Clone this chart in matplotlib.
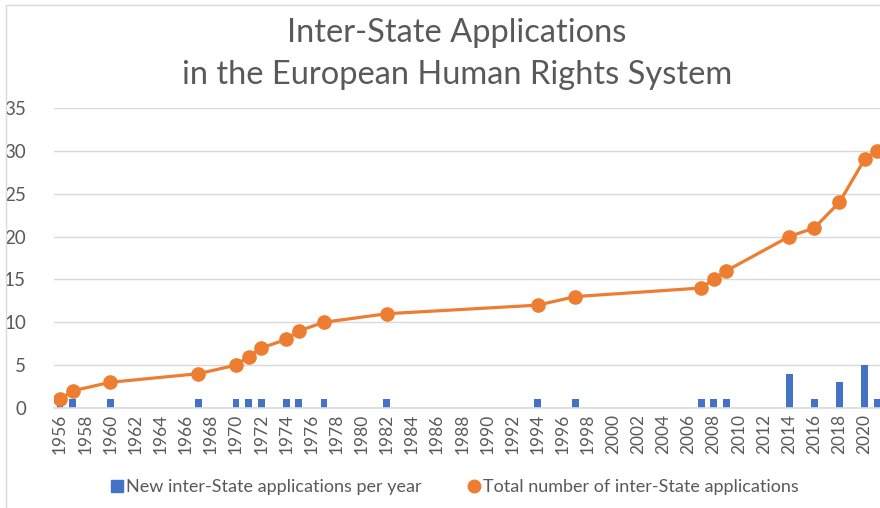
import numpy as np
import matplotlib
matplotlib.use("Agg")
import matplotlib.pyplot as plt
from matplotlib.patches import Rectangle
from matplotlib.lines import Line2D

# data
years = list(range(1956, 2022))
new_years = [1956, 1957, 1960, 1967, 1970, 1971, 1972, 1974, 1975, 1977, 1982,
             1994, 1997, 2007, 2008, 2009, 2014, 2016, 2018, 2020, 2021]
new_counts = [1, 1, 1, 1, 1, 1, 1, 1, 1, 1, 1,
              1, 1, 1, 1, 1, 4, 1, 3, 5, 1]
total_counts = [1, 2, 3, 4, 5, 6, 7, 8, 9, 10, 11,
                12, 13, 14, 15, 16, 20, 21, 24, 29, 30]
tick_labels = [str(y) for y in years[::2]]
series_names = ["New inter-State applications per year",
                "Total number of inter-State applications"]

blue = "#4472C4"
orange = "#ED7D31"
grey_txt = "#595959"
grid_c = "#D9D9D9"

plt.rcParams["font.family"] = ["Lato", "DejaVu Sans"]

fig = plt.figure(figsize=(8.8, 5.08), dpi=100)
fig.patch.set_facecolor("white")
# chart border (cropped on the right and bottom)
fig.patches.append(Rectangle((6 / 880, -0.1), 1.2, 1 - 5 / 508 + 0.1,
                             transform=fig.transFigure, fill=False,
                             edgecolor=grid_c, linewidth=1))

x0 = 53.7 / 880
ax = fig.add_axes([x0, 1 - 408 / 508, 883.4 / 880 - x0, 300 / 508])

idx = {y: i for i, y in enumerate(years)}
bx = [idx[y] for y in new_years]

ax.bar(bx, new_counts, width=0.55, color=blue, zorder=2)
ax.plot(bx, total_counts, color=orange, linewidth=2.3, marker="o",
        markersize=9.5, zorder=3)

ax.set_xlim(-0.5, len(years) - 0.5)
ax.set_ylim(0, 35)
ax.set_yticks(range(0, 36, 5))
ax.set_xticks(range(0, len(years), 2))
ax.set_xticklabels(tick_labels, rotation=90)
ax.tick_params(axis="y", length=0, labelsize=13.5, colors=grey_txt, pad=20)
ax.tick_params(axis="x", length=0, labelsize=12.5, colors=grey_txt, pad=4)
ax.grid(axis="y", color=grid_c, linewidth=1, zorder=0)
ax.set_axisbelow(True)
for s in ["top", "right", "left"]:
    ax.spines[s].set_visible(False)
ax.spines["bottom"].set_color(grid_c)
ax.spines["bottom"].set_linewidth(1.2)

fig.text(457 / 880, 1 - 33 / 508, "Inter-State Applications", ha="center",
         va="center", fontsize=23.5, color=grey_txt)
fig.text(457 / 880, 1 - 75 / 508, "in the European Human Rights System",
         ha="center", va="center", fontsize=23.5, color=grey_txt)

handles = [Line2D([], [], linestyle="none", marker="s", markersize=8, color=blue),
           Line2D([], [], linestyle="none", marker="o", markersize=9, color=orange)]
fig.legend(handles, series_names, loc="center", bbox_to_anchor=(455 / 880, 1 - 487 / 508),
           ncol=2, frameon=False, fontsize=13, handlelength=0.6, handletextpad=0.2,
           columnspacing=2.6, labelcolor=grey_txt)

fig.savefig("out.png", dpi=100)
